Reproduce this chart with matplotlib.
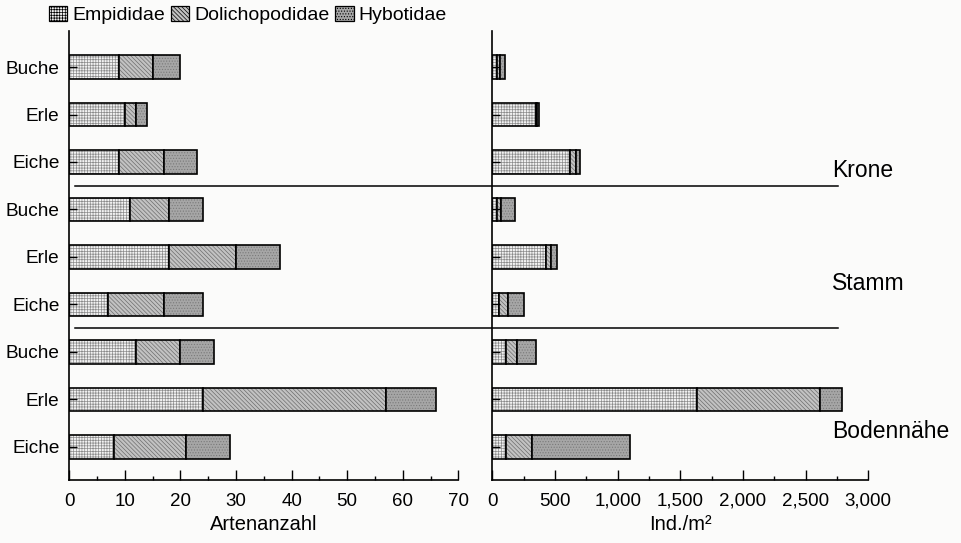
import matplotlib.pyplot as plt
import matplotlib.transforms as mtransforms
from matplotlib.lines import Line2D
from matplotlib.patches import Patch
from matplotlib.ticker import MultipleLocator, FuncFormatter

plt.rcParams['font.family'] = ['Liberation Sans', 'DejaVu Sans']
plt.rcParams['hatch.linewidth'] = 0.5

# von unten (Bodennähe, Eiche) nach oben (Krone, Buche)
baeume = ['Eiche', 'Erle', 'Buche', 'Eiche', 'Erle', 'Buche', 'Eiche', 'Erle', 'Buche']
zonen = ['Bodennähe', 'Stamm', 'Krone']
familien = ['Empididae', 'Dolichopodidae', 'Hybotidae']

# Artenanzahl
arten_emp = [8, 24, 12, 7, 18, 11, 9, 10, 9]
arten_dol = [13, 33, 8, 10, 12, 7, 8, 2, 6]
arten_hyb = [8, 9, 6, 7, 8, 6, 6, 2, 5]

# Individuen pro m²
ind_emp = [110, 1635, 110, 50, 425, 40, 620, 345, 40]
ind_dol = [205, 980, 85, 72, 40, 30, 48, 10, 25]
ind_hyb = [780, 175, 155, 128, 55, 115, 32, 15, 35]

# Füllfarbe, Schraffur, Schraffurfarbe je Familie
fuellung = [('#f2f2f2', '++++++', '#8c8c8c'),
            ('#c2c2c2', '\\\\\\\\\\\\\\\\', '#6e6e6e'),
            ('#a6a6a6', '......', '#7a7a7a')]


def stapel(ax, reihen):
    y = list(range(len(baeume)))
    links = [0] * len(baeume)
    for werte, (fc, hatch, hc) in zip(reihen, fuellung):
        ax.barh(y, werte, left=links, height=0.5, color=fc, hatch=hatch,
                edgecolor=hc, linewidth=0)
        ax.barh(y, werte, left=links, height=0.5, fill=False,
                edgecolor='black', linewidth=1.2)
        links = [a + b for a, b in zip(links, werte)]


fig = plt.figure(figsize=(9.62, 5.43), dpi=100, facecolor='#fbfbfa')
ax1 = fig.add_axes([69.3 / 962, 63 / 543, 389 / 962, 449 / 543])
ax2 = fig.add_axes([492.3 / 962, 63 / 543, 376 / 962, 449 / 543])

stapel(ax1, [arten_emp, arten_dol, arten_hyb])
stapel(ax2, [ind_emp, ind_dol, ind_hyb])

for ax in (ax1, ax2):
    ax.set_facecolor('none')
    ax.set_ylim(-0.695, 8.758)
    ax.spines['top'].set_visible(False)
    ax.spines['right'].set_visible(False)
    ax.spines['left'].set_linewidth(1.2)
    ax.spines['bottom'].set_linewidth(1.2)
    ax.set_yticks(range(len(baeume)))
    ax.tick_params(axis='x', which='major', direction='in', length=7, width=1,
                   pad=9, labelsize=13.5)
    ax.tick_params(axis='x', which='minor', direction='in', length=3.2, width=1)
    ax.tick_params(axis='y', direction='in', length=6, width=1, pad=7,
                   labelsize=13.7)

ax1.set_yticklabels(baeume)
ax2.set_yticklabels([])

ax1.set_xlim(0, 70)
ax1.xaxis.set_major_locator(MultipleLocator(10))
ax1.xaxis.set_minor_locator(MultipleLocator(5))
ax1.set_xlabel('Artenanzahl', fontsize=14.5, labelpad=4)

ax2.set_xlim(0, 3000)
ax2.xaxis.set_major_locator(MultipleLocator(500))
ax2.xaxis.set_minor_locator(MultipleLocator(250))
ax2.xaxis.set_major_formatter(FuncFormatter(lambda v, p: f'{int(v):,}'))
ax2.set_xlabel('Ind./m²', fontsize=14.5, labelpad=4)

# Trennlinien zwischen den Zonen, über beide Diagramme
trans = mtransforms.blended_transform_factory(fig.transFigure, ax1.transData)
for y in (2.5, 5.5):
    fig.add_artist(Line2D([75 / 962, 838 / 962], [y, y], transform=trans,
                          color='black', linewidth=1.1))

for name, y in zip(zonen, (0.32, 3.45, 5.82)):
    fig.text(832 / 962, y, name, transform=trans, fontsize=16.5, va='center',
             ha='left')

handles = [Patch(facecolor=fc, hatch=hatch, edgecolor='black', linewidth=0.9)
           for fc, hatch, hc in fuellung]
fig.legend(handles, familien, loc='upper left',
           bbox_to_anchor=(49 / 962, 1 - 6 / 543), ncol=3, frameon=False,
           fontsize=14, handlelength=0.95, handleheight=0.8,
           handletextpad=0.25, columnspacing=0.3, borderpad=0,
           borderaxespad=0)

fig.savefig('out.png', dpi=100, facecolor=fig.get_facecolor())
